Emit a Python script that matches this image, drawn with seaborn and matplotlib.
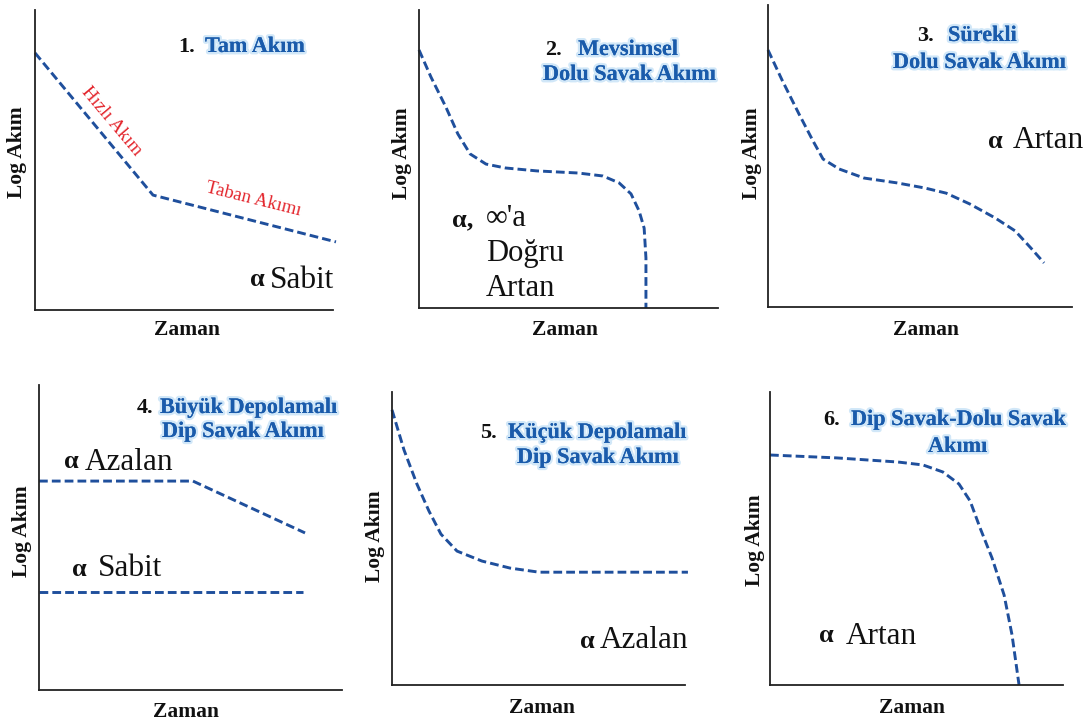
import matplotlib
matplotlib.use("Agg")
import matplotlib.pyplot as plt
import matplotlib.patheffects as pe
import seaborn as sns
import pandas as pd

sns.set_style("white")
plt.rcParams["font.family"] = ["Liberation Serif", "DejaVu Serif"]

W, H = 1089, 726

# Schematic hydrograph shapes, x and y in percent of each panel's axis range
p1_x = [0, 39.6, 101]
p1_y = [85.7, 38.3, 22.7]

p2_x = [0, 4.0, 9.0, 13.0, 17.1, 22.4, 28.8, 39.5, 53.2, 61.5, 66.9, 70.9, 73.6, 75.3, 75.9, 75.9]
p2_y = [86.6, 77.5, 67.4, 58.4, 51.7, 48.3, 47.0, 46.0, 45.3, 44.3, 42.0, 38.3, 32.6, 26.8, 16.8, 0.0]

p3_x = [0, 4.6, 10.2, 14.8, 18.1, 23.4, 31.6, 42.4, 51.6, 58.6, 66.4, 74.7, 81.3, 86.5, 90.8]
p3_y = [85.1, 75.2, 63.9, 55.0, 49.0, 45.7, 42.7, 41.1, 39.4, 37.7, 34.1, 29.5, 25.2, 19.5, 14.6]

p4a_x = [0, 50.8, 87.8]
p4a_y = [68.5, 68.5, 51.5]
p4b_x = [0, 87.1]
p4b_y = [32.1, 32.1]

p5_x = [0, 4.1, 8.5, 12.6, 16.7, 22.2, 30.7, 40.3, 50.2, 101]
p5_y = [93.9, 80.2, 68.6, 59.4, 51.5, 45.7, 42.3, 39.9, 38.5, 38.5]

p6_x = [0, 22.9, 43.7, 52.2, 59.0, 64.5, 68.3, 71.7, 75.8, 79.9, 82.6, 85.0]
p6_y = [78.5, 77.5, 76.1, 75.1, 72.7, 68.6, 62.8, 53.6, 43.3, 30.7, 17.1, 0.0]

titles = [
    ("1.", ["Tam Akım"]),
    ("2.", ["Mevsimsel", "Dolu Savak Akımı"]),
    ("3.", ["Sürekli", "Dolu Savak Akımı"]),
    ("4.", ["Büyük Depolamalı", "Dip Savak Akımı"]),
    ("5.", ["Küçük Depolamalı", "Dip Savak Akımı"]),
    ("6.", ["Dip Savak-Dolu Savak", "Akımı"]),
]
ylabel_text = "Log Akım"
xlabel_text = "Zaman"

LINE = "#1f4f9c"
TITLE_BLUE = "#1a5bab"
GLOW = "#c6e2f7"
RED = "#e3242b"
INK = "#111111"

fig = plt.figure(figsize=(W / 100, H / 100), dpi=100)


def fx(x):
    return x / W


def fy(y):
    return 1 - y / H


def make_axes(x0, y0, x1, y1):
    ax = fig.add_axes([fx(x0), fy(y1), (x1 - x0) / W, (y1 - y0) / H])
    ax.set_xlim(0, 100)
    ax.set_ylim(0, 100)
    ax.set_xticks([])
    ax.set_yticks([])
    for s in ["top", "right"]:
        ax.spines[s].set_visible(False)
    for s in ["left", "bottom"]:
        ax.spines[s].set_color("#222222")
        ax.spines[s].set_linewidth(1.3)
    ax.set_facecolor("white")
    return ax


def curve(ax, xs, ys):
    df = pd.DataFrame({"t": xs, "q": ys})
    sns.lineplot(data=df, x="t", y="q", ax=ax, estimator=None, sort=False,
                 color=LINE, lw=2.1, linestyle=(0, (3.0, 1.4)), clip_on=False)
    ax.set_xlabel("")
    ax.set_ylabel("")


def labels(ylx, yly, xlx, xly):
    fig.text(fx(ylx), fy(yly), ylabel_text, fontsize=15.5, fontweight="bold",
             rotation=90, ha="center", va="center", color=INK)
    fig.text(fx(xlx), fy(xly), xlabel_text, fontsize=15.5, fontweight="bold",
             ha="center", va="center", color=INK)


glow = [pe.withStroke(linewidth=3.5, foreground=GLOW, alpha=0.8), pe.Normal()]


def blue(x, y, s, ha="left"):
    fig.text(fx(x), fy(y), s, fontsize=16, fontweight="bold", color=TITLE_BLUE,
             ha=ha, va="center", path_effects=glow)


def num(x, y, s):
    fig.text(fx(x), fy(y), s, fontsize=16, fontweight="bold", color=INK,
             ha="left", va="center")


def alpha_text(xa, xw, y, word):
    fig.text(fx(xa), fy(y), "α", fontsize=19, fontweight="bold", color=INK,
             ha="left", va="center")
    fig.text(fx(xw), fy(y), word, fontsize=22.5, color=INK, ha="left", va="center")


# 1. Tam Akım
ax1 = make_axes(35, 10, 333, 310)
curve(ax1, p1_x, p1_y)
labels(17, 152, 187, 330)
num(178, 47, titles[0][0])
blue(205, 47, titles[0][1][0])
fig.text(fx(111), fy(121), "Hızlı Akım", fontsize=13.5, color=RED, rotation=-50,
         rotation_mode="anchor", ha="center", va="center")
fig.text(fx(253), fy(199), "Taban Akımı", fontsize=13.5, color=RED, rotation=-14,
         rotation_mode="anchor", ha="center", va="center")
alpha_text(250, 270, 280, "Sabit")

# 2. Mevsimsel dolu savak akımı
ax2 = make_axes(419, 10, 718, 308)
curve(ax2, p2_x, p2_y)
labels(402, 153, 565, 330)
num(545, 50, titles[1][0])
blue(578, 50, titles[1][1][0])
blue(543, 75, titles[1][1][1])
fig.text(fx(452), fy(220), "α,", fontsize=19, fontweight="bold", color=INK,
         ha="left", va="center")
fig.text(fx(486), fy(219), "∞'a", fontsize=22, color=INK, ha="left", va="center")
fig.text(fx(486), fy(254), "Doğru", fontsize=22, color=INK, ha="left", va="center")
fig.text(fx(486), fy(289), "Artan", fontsize=22, color=INK, ha="left", va="center")

# 3. Sürekli dolu savak akımı
ax3 = make_axes(768, 5, 1072, 307)
curve(ax3, p3_x, p3_y)
labels(752, 153, 926, 330)
num(917, 36, titles[2][0])
blue(948, 36, titles[2][1][0])
blue(893, 63, titles[2][1][1])
alpha_text(988, 1013, 141, "Artan")

# 4. Büyük depolamalı dip savak akımı
ax4 = make_axes(39, 385, 342, 690)
curve(ax4, p4a_x, p4a_y)
curve(ax4, p4b_x, p4b_y)
labels(22, 531, 186, 712)
num(137, 408, titles[3][0])
blue(160, 408, titles[3][1][0])
blue(162, 432, titles[3][1][1])
alpha_text(64, 85, 462, "Azalan")
alpha_text(72, 98, 569, "Sabit")

# 5. Küçük depolamalı dip savak akımı
ax5 = make_axes(392, 392, 685, 685)
curve(ax5, p5_x, p5_y)
labels(375, 536, 542, 708)
num(480, 433, titles[4][0])
blue(508, 433, titles[4][1][0])
blue(517, 458, titles[4][1][1])
alpha_text(580, 600, 641, "Azalan")

# 6. Dip savak - dolu savak akımı
ax6 = make_axes(770, 392, 1063, 685)
curve(ax6, p6_x, p6_y)
labels(755, 540, 912, 708)
num(823, 420, titles[5][0])
blue(851, 420, titles[5][1][0])
blue(928, 447, titles[5][1][1])
alpha_text(819, 846, 636, "Artan")

fig.savefig("out.png", dpi=100, facecolor="white")
